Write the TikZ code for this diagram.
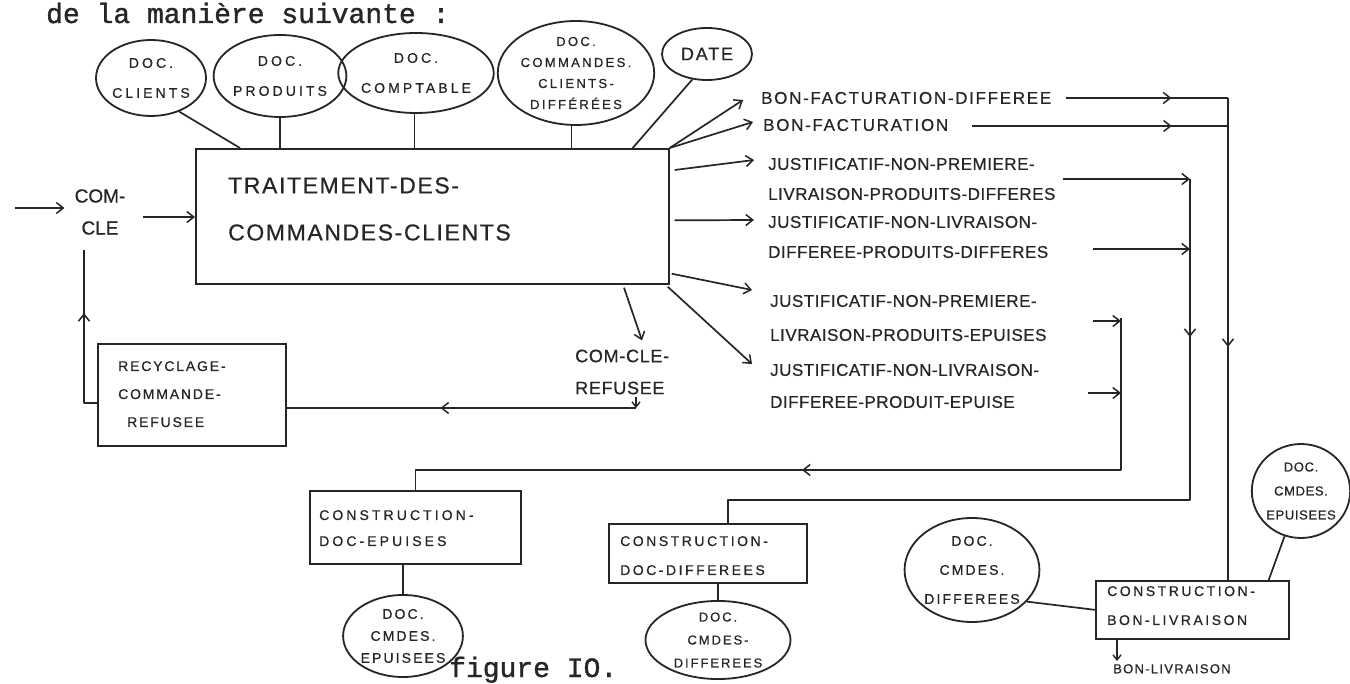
\documentclass[tikz,border=0pt]{standalone}
\usepackage{fontspec}
\usetikzlibrary{shapes.geometric,arrows.meta,decorations.markings,calc}
\newfontfamily\handfont[FakeBold=0.6]{Liberation Sans}
\newfontfamily\typefont[FakeBold=1.2]{Liberation Mono}
% hand lettering: #1 letter spacing, #2 size, #3 line distance
\newcommand\handls[3]{\handfont\fontsize{#2}{#3}\selectfont\addfontfeature{LetterSpace=#1}}
\definecolor{ink}{RGB}{38,38,38}
\begin{document}
\begin{tikzpicture}[x=1pt,y=-1pt,
  wire/.style={draw=ink,line width=1.7pt,line join=round},
  flow/.style={wire,-{Straight Barb[length=7pt,width=11pt,line width=1.5pt]}},
  midtip/.style={postaction={decorate},decoration={markings,
     mark=at position #1 with {\arrow[ink,line width=1.5pt]{Straight Barb[length=7pt,width=11pt]}}}},
  bubble/.style={ellipse,draw=ink,line width=1.8pt,inner sep=0pt,align=center,text=ink},
  procbox/.style={rectangle,draw=ink,line width=1.7pt,inner sep=0pt,anchor=north west},
  hand/.style={text=ink,inner sep=0pt,align=left},
  typetext/.style={font=\typefont\fontsize{28}{32}\selectfont,text=ink,inner sep=0pt}
]
\useasboundingbox (0,0) rectangle (1350,684);
\fill[white] (0,0) rectangle (1350,684);

\node[typetext,anchor=base west] (head) at (46,23) {de la manière suivante :};

% data stores above the main process
\node[bubble,minimum width=110pt,minimum height=76pt,font=\handls{22}{14}{30}] (bC) at (151,78) {DOC.\\CLIENTS};
\node[bubble,minimum width=124pt,minimum height=82pt,font=\handls{22}{14}{30}] (bP) at (280,76) {DOC.\\PRODUITS};
\node[bubble,minimum width=136pt,minimum height=80pt,font=\handls{22}{14}{30}] (bK) at (416,73) {DOC.\\COMPTABLE};
\node[bubble,minimum width=140pt,minimum height=104pt,font=\handls{18}{13}{21}] (bD) at (576,73) {DOC.\\COMMANDES.\\CLIENTS-\\DIFFÉRÉES};
\node[bubble,minimum width=90pt,minimum height=52pt,font=\handls{10}{18}{20}] (bDate) at (707,54) {DATE};

% main process
\node[procbox,minimum width=473pt,minimum height=135pt] (proc) at (195,148) {};
\node[hand,anchor=west,font=\handls{7}{23}{47}] (procT) at (228,209) {TRAITEMENT-DES-\\COMMANDES-CLIENTS};

\draw[wire] (bC.-50) -- ($(proc.north west)+(45,0)$);
\draw[wire] (bP.south) -- (bP.south |- proc.north);
\draw[wire] (bK.268) -- (bK.268 |- proc.north);
\draw[wire] (bD.265) -- (bD.265 |- proc.north);
\draw[wire] (bDate.-120) -- ($(proc.north east)+(-37,0)$);

% incoming orders
\node[hand,align=center,font=\handls{0}{19}{32}] (comIn) at (100,212) {COM-\\CLE};
\coordinate (inStart) at (15,208);
\draw[flow,shorten >=10pt] (inStart) -- (inStart -| comIn.west);
\draw[flow] ($(comIn.east)+(17,5)$) coordinate (cin) -- (cin -| proc.west);

% outputs of the main process
\node[hand,anchor=west,font=\handls{10}{17}{20}] (bfd) at (761,98) {BON-FACTURATION-DIFFEREE};
\node[hand,anchor=west,font=\handls{10}{17}{20}] (bf) at (763,125) {BON-FACTURATION};
\node[hand,anchor=west,font=\handls{3}{17}{30}] (L1) at (768,179) {JUSTIFICATIF-NON-PREMIERE-\\LIVRAISON-PRODUITS-DIFFERES};
\node[hand,anchor=west,font=\handls{3}{17}{30}] (L2) at (768,237) {JUSTIFICATIF-NON-LIVRAISON-\\DIFFEREE-PRODUITS-DIFFERES};
\node[hand,anchor=west,font=\handls{3}{17}{34}] (L3) at (770,318) {JUSTIFICATIF-NON-PREMIERE-\\LIVRAISON-PRODUITS-EPUISES};
\node[hand,anchor=west,font=\handls{3}{17}{32}] (L4) at (770,386) {JUSTIFICATIF-NON-LIVRAISON-\\DIFFEREE-PRODUIT-EPUISE};

\draw[flow] (proc.north east) -- ($(bfd.west)+(-18,2)$);
\draw[flow] (proc.north east) -- ($(bf.west)+(-10,-3)$);
\draw[flow] ($(proc.north east)+(5,22)$) -- ($(L1.west)+(-14,-19)$);
\draw[flow] ($(proc.east)+(5,4)$) -- ($(L2.west)+(-14,-17)$);
\draw[flow] ($(proc.south east)+(2,-11)$) -- ($(L3.west)+(-18,-28)$);
\draw[flow] ($(proc.south east)+(-2,2)$) -- ($(L4.west)+(-18,-22)$);

% refused orders and recycling
\node[hand,anchor=west,font=\handls{4}{18}{32}] (ref) at (575,372) {COM-CLE-\\REFUSEE};
\draw[flow] ($(proc.south west)+(429,3)$) -- ($(ref.north west)+(67,-9)$);
\node[procbox,minimum width=188pt,minimum height=102pt] (rec) at (97,343) {};
\node[hand,anchor=north west,font=\handls{13}{14}{28}] (recT) at (118,361) {RECYCLAGE-\\COMMANDE-\\\hspace*{9pt}REFUSEE};
\coordinate (rc) at (636,408);
\draw[flow,-{Straight Barb[length=5pt,width=8pt,line width=1.4pt]}] ($(ref.south west)+(61,2)$) -- (rc);
\draw[wire,midtip=0.56] (rc) -- (rc -| rec.east);
\coordinate (fbk) at (84,403);
\coordinate (fbTop) at ($(comIn.south)+(-16,15)$);
\draw[wire,midtip=103pt] (rec.west |- fbk) -- (fbk) -- (fbTop);

% building the documents
\node[procbox,minimum width=211pt,minimum height=73pt] (ep) at (309,490) {};
\node[hand,anchor=north west,font=\handls{22}{14}{26}] (epT) at (319,510) {CONSTRUCTION-\\DOC-EPUISES};
\node[bubble,minimum width=116pt,minimum height=82pt,font=\handls{15}{14}{22}] (bEp) at (403,636) {DOC.\\CMDES.\\EPUISEES};
\draw[wire] (bEp.north) -- (bEp.north |- ep.south);

\node[procbox,minimum width=198pt,minimum height=59pt] (df) at (608,523) {};
\node[hand,anchor=north west,font=\handls{18}{14}{29}] (dfT) at (620,536) {CONSTRUCTION-\\DOC-DIFFEREES};
\node[bubble,minimum width=145pt,minimum height=74pt,font=\handls{15}{13}{23}] (bDf) at (718,640) {DOC.\\CMDES-\\DIFFEREES};
\draw[wire] (bDf.north) -- (bDf.north |- df.south);

\node[procbox,minimum width=193pt,minimum height=58pt] (bl) at (1095,580) {};
\node[hand,anchor=north west,font=\handls{18}{14}{29}] (blT) at (1107,586) {CONSTRUCTION-\\BON-LIVRAISON};
\node[bubble,minimum width=127pt,minimum height=104pt,font=\handls{15}{14}{29}] (bDD) at (972,570) {DOC.\\CMDES.\\DIFFEREES};
\node[bubble,minimum width=92pt,minimum height=94pt,font=\handls{5}{13}{24}] (bER) at (1301,491) {DOC.\\CMDES.\\EPUISEES};
\draw[wire] (bDD.-30) -- (bl.west);
\draw[wire] (bER.-110) -- ($(bl.north east)+(-21,0)$);
\node[hand,anchor=north west,font=\handls{10}{13}{16}] (blOut) at (1113,664) {BON-LIVRAISON};
\draw[flow,-{Straight Barb[length=5pt,width=8pt,line width=1.4pt]}] ($(bl.south west)+(22,0)$) -- ($(blOut.north west)+(4,-3)$);

% collecting lines on the right
\coordinate (v3top) at (1228,98);
\draw[wire,midtip=0.65] ($(bfd.east)+(15,0)$) -- (v3top);
\draw[wire,midtip=0.78] ($(bf.east)+(24,1)$) coordinate (bfo) -- (bfo -| v3top);
\draw[wire,midtip=249pt] (v3top) -- (v3top |- bl.north);

\coordinate (v2top) at (1190,179);
\coordinate (v2bot) at (1190,500);
\coordinate (dfin) at ($(df.north)+(20,0)$);
\coordinate (l2o) at (1093,249);
\draw[flow] ($(L1.east)+(7,0)$) -- (v2top);
\draw[flow] (l2o) -- (l2o -| v2top);
\draw[wire,midtip=158pt] (v2top) -- (v2bot) -- (v2bot -| dfin) -- (dfin);

\coordinate (v1top) at (1121,318);
\coordinate (v1bot) at (1121,470);
\coordinate (l3o) at (1093,321);
\coordinate (l4o) at (1088,393);
\draw[flow] (l3o) -- (l3o -| v1top);
\draw[flow] (l4o) -- (l4o -| v1top);
\draw[wire,midtip=471pt] (v1top) -- (v1bot) -- (v1bot -| ep.north) -- (ep.north);

\node[typetext,anchor=base west] (cap) at (449,677) {figure IO.};
\end{tikzpicture}
\end{document}
